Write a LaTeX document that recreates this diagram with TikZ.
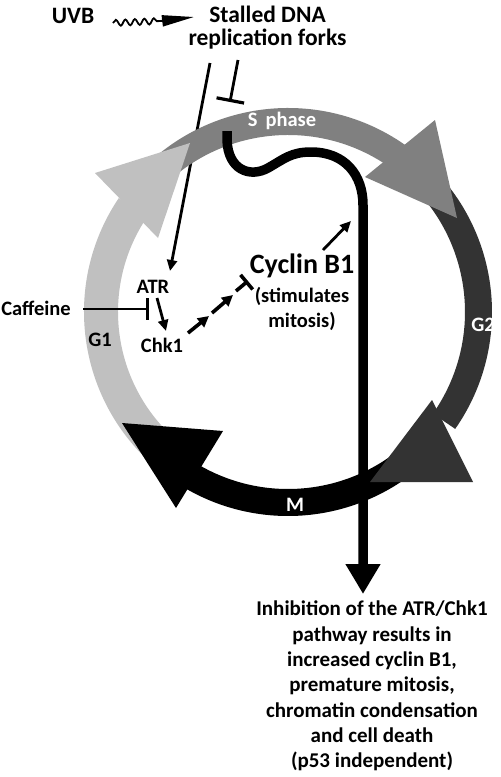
\documentclass[tikz,border=0pt]{standalone}
\usepackage{fontspec}
\setmainfont{Carlito}
\usetikzlibrary{arrows.meta,decorations.pathmorphing}
\definecolor{gone}{HTML}{C0C0C0}
\definecolor{sph}{HTML}{808080}
\definecolor{gtwo}{HTML}{333333}
\tikzset{
  band/.style={line width=#1pt},
  lbl/.style={inner sep=0pt, font=\bfseries\fontsize{20.5}{24}\selectfont},
  thinarrow/.style={line width=2.8pt,-{Triangle[length=11pt,width=10pt]}},
  dasharrow/.style={line width=3.6pt,-{Triangle[length=11pt,width=11pt]}},
  inhib/.style={line width=2.8pt,-{Bar[width=#1pt,line width=3.2pt]}},
}
\begin{document}
\begin{tikzpicture}[x=1pt,y=-1pt]
\useasboundingbox (0,0) rectangle (501,777);
\fill[white] (0,0) rectangle (501,777);
% pathway line from forks to ATR (behind the ring)
\coordinate (f1) at (210,63);
\coordinate (atrin) at (170,271);
\draw[thinarrow] (f1) -- (atrin);
% ring bands
\coordinate (c) at (288,312);
\draw[band=34, gone] (c) ++(-232:187) arc[start angle=-232, end angle=-146, radius=187];
\draw[band=27, sph] (c) ++(-145:190.5) arc[start angle=-145, end angle=-55, radius=190.5];
\draw[band=27, gtwo] (c) ++(-40:190.5) arc[start angle=-40, end angle=35, radius=190.5];
\draw[band=27, black] (c) ++(50:190.5) arc[start angle=50, end angle=120, radius=190.5];
% arrowheads
\fill[gone] (95,173) -- (190,143) -- (158,238) -- cycle;
\fill[sph] (435,120) -- (457,218) -- (365,177) -- cycle;
\fill[gtwo] (432,400) -- (473,482) -- (370,482) -- cycle;
\fill[black] (122,423) -- (223,431) -- (176,508) -- cycle;
% phase labels
\node[lbl, text=white] (sphase) at (282,121) {S\, phase};
\node[lbl] (g1) at (100,340) {G1};
\node[lbl, text=white] (g2) at (483,325) {G2};
\node[lbl, text=white] (m) at (295,505) {M};
% top labels
\node[lbl, font=\bfseries\fontsize{23.5}{28}\selectfont] (uvb) at (73,16) {UVB};
\node[lbl, font=\bfseries\fontsize{23.5}{28}\selectfont] (stalled) at (267.5,14) {Stalled DNA};
\node[lbl, font=\bfseries\fontsize{23.5}{28}\selectfont] (forks) at (267.5,39) {replication forks};
\coordinate (uvbs) at (113,23);
\coordinate (uvbm) at (161,21);
\coordinate (uvbe) at (194,17);
\draw[line width=1.8pt, decorate, decoration={snake, amplitude=3pt, segment length=9.5pt}] (uvbs) -- (uvbm);
\draw[line width=2pt, -{Triangle[length=32pt,width=11pt]}] (uvbm) -- (uvbe);
% inhibition of S phase
\coordinate (f2) at (238,60);
\coordinate (f2e) at (230,102);
\draw[inhib=28] (f2) -- (f2e);
% ATR, Chk1, caffeine
\node[lbl] (atr) at (153,287) {ATR};
\node[lbl] (chk) at (162,345) {Chk1};
\node[lbl] (caf) at (36,308) {Caffeine};
\coordinate (cafs) at (83,309);
\coordinate (cafe) at (149,309);
\draw[inhib=22] (cafs) -- (cafe);
\coordinate (a1) at (157,298);
\coordinate (a2) at (166,331);
\draw[thinarrow] (a1) -- (a2);
% dashed activation chain to Cyclin B1
\coordinate (d1) at (188,333);
\coordinate (d2) at (209,316);
\coordinate (d3) at (212,313);
\coordinate (d4) at (233,295);
\coordinate (d5) at (236,291);
\coordinate (d6) at (248,281);
\draw[dasharrow] (d1) -- (d2);
\draw[dasharrow] (d3) -- (d4);
\draw[line width=3.6pt,-{Bar[width=19pt,line width=3.6pt]}] (d5) -- (d6);
% Cyclin B1
\node[inner sep=0pt, font=\fontsize{28}{30}\selectfont\bfseries] (cyc) at (302,266) {Cyclin B1};
\node[lbl, align=center, font=\bfseries\fontsize{20.5}{25}\selectfont] (stim) at (302,309) {(stimulates\\mitosis)};
\coordinate (cy1) at (323,250);
\coordinate (cy2) at (351,221);
\draw[thinarrow] (cy1) -- (cy2);
% thick black line
\coordinate (ts) at (227,131);
\coordinate (te) at (363,594);
\draw[line width=9.5pt, -{Triangle[length=30pt,width=33pt]}] (ts) -- (227,140)
  .. controls (228,170) and (250,178) .. (268,168)
  .. controls (284,159) and (291,152) .. (311,152)
  .. controls (345,152) and (363,175) .. (363,205) -- (te);
% result text
\node[lbl, align=center, font=\bfseries\fontsize{21}{25.3}\selectfont, anchor=north] (res) at (372,601)
{Inhibition of the ATR/Chk1\\pathway results in\\increased cyclin B1,\\premature mitosis,\\chromatin condensation\\and cell death\\(p53 independent)};
\end{tikzpicture}
\end{document}
